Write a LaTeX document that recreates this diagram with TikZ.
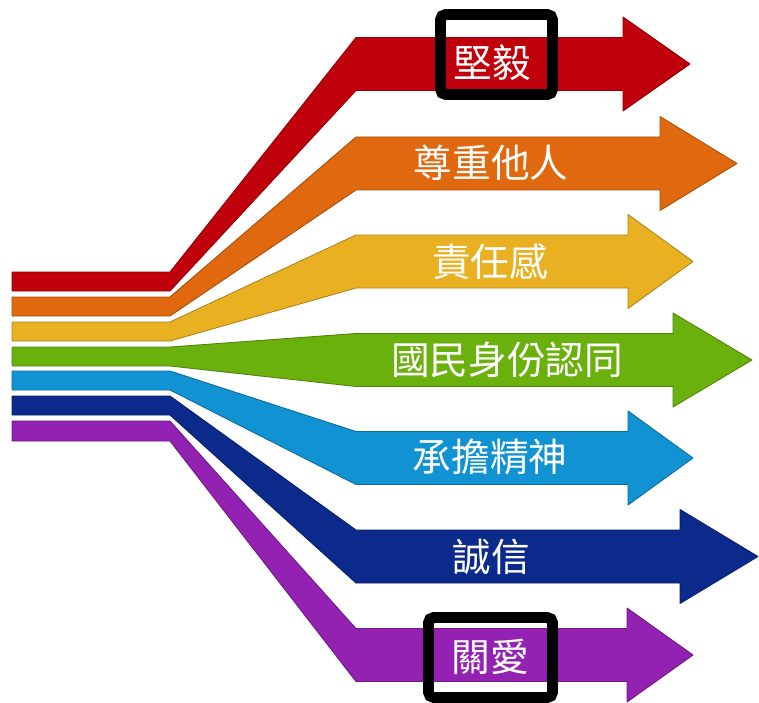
\documentclass[tikz,border=0pt]{standalone}
\usepackage{fontspec}
\usepackage{tikz}
\newfontfamily\tcfont{Noto Sans CJK TC}
\definecolor{bandred}{HTML}{C0000A}
\definecolor{bandorange}{HTML}{E0680F}
\definecolor{bandyellow}{HTML}{E9B121}
\definecolor{bandgreen}{HTML}{6BB10E}
\definecolor{bandblue}{HTML}{1092D3}
\definecolor{bandnavy}{HTML}{0B2A8C}
\definecolor{bandpurple}{HTML}{9322B2}
\tikzset{
  label/.style={text=white,font=\tcfont\fontsize{22}{24}\selectfont,inner sep=0pt},
  hlbox/.style={draw=black,line width=6.2pt,rounded corners=3pt,inner sep=0pt}
}

\begin{document}
\begin{tikzpicture}[x=0.02cm,y=-0.02cm]
        \useasboundingbox (0,0) rectangle (759,702);
        % colour / stripe top / stripe bottom / body centre / head base / tip
        \foreach \col/\sa/\sb/\c/\base/\tip in {bandred/272/291/64/623/690,
            bandorange/297/316/163.5/660/737,bandyellow/322/341/261.5/628/693,
            bandgreen/347/366/360/673/752,bandblue/371/390/458/628/693,
            bandnavy/396/415/556.5/680/758,bandpurple/421/441/655/627/693}
        {
          \fill[\col,draw=\col!75!black,line width=0.5pt,line join=round]
            (12,\sa) -- (170,\sa) -- (356,\c-26.5) -- (\base,\c-26.5) -- (\base,\c-47)
            -- (\tip,\c) -- (\base,\c+47) -- (\base,\c+26.5) -- (356,\c+26.5)
            -- (170,\sb) -- (12,\sb) -- cycle;
        }
        \node[label] (jianyi) at (492,63) {堅毅};
        \node[label] (zunzhong) at (491,163) {尊重他人};
        \node[label] (zeren) at (490,262) {責任感};
        \node[label] (guomin) at (507,360) {國民身份認同};
        \node[label] (chengdan) at (490,457) {承擔精神};
        \node[label] (chengxin) at (491,557) {誠信};
        \node[label] (guanai) at (490,657) {關愛};
        \node[hlbox,minimum width=2.24cm,minimum height=1.6cm] (box-jianyi) at (496.5,54.5) {};
        \node[hlbox,minimum width=2.48cm,minimum height=1.6cm] (box-guanai) at (490.5,657.5) {};
    \end{tikzpicture}
\end{document}
